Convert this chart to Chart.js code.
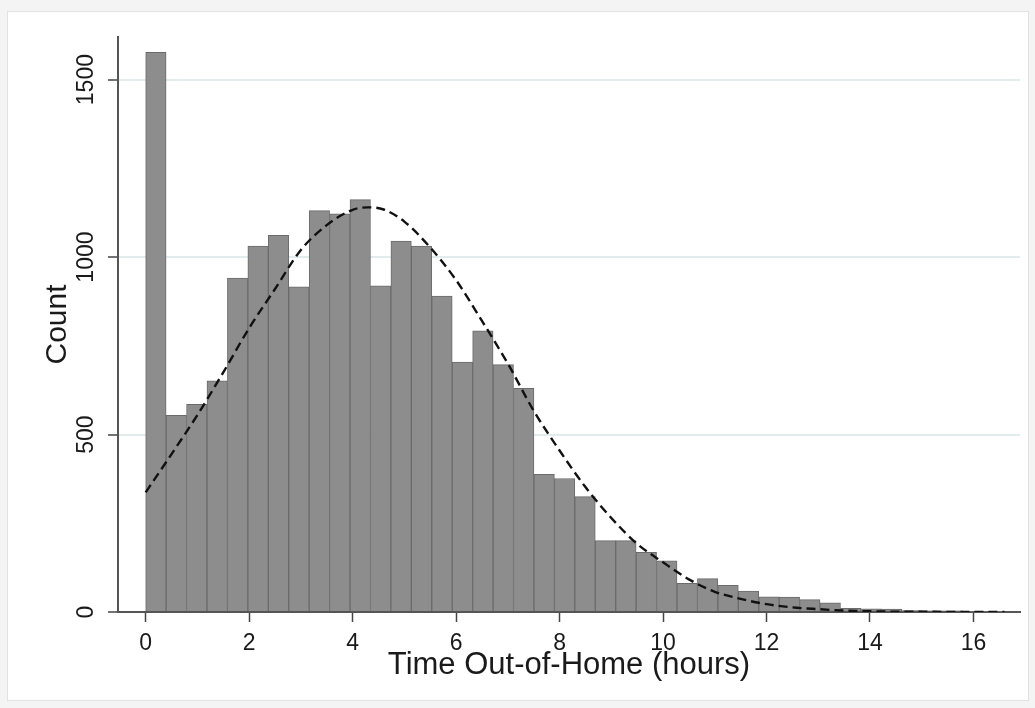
<!DOCTYPE html>
<html>
<head>
<meta charset="utf-8">
<script src="https://cdn.jsdelivr.net/npm/chart.js@4.4.0/dist/chart.umd.min.js"></script>
<style>
  html, body { margin: 0; padding: 0; background: #f4f4f4; }
  #frame { position: absolute; left: 7px; top: 11px; width: 1020px; height: 688px; background: #fff; border: 1px solid #e2e2e2; }
  #wrap { position: absolute; left: 0; top: 0; width: 1035px; height: 708px; }
</style>
</head>
<body>
<div id="frame"></div>
<div id="wrap"><canvas id="hist" width="1035" height="708"></canvas></div>
<script>
// histogram of time out-of-home, 42 bins from 0
const binWidth = 0.395;
const counts = [1577, 554, 585, 651, 941, 1031, 1061, 916, 1131, 1122, 1162, 919, 1045, 1031,
                890, 704, 792, 697, 630, 388, 376, 325, 201, 201, 168, 144, 81, 94,
                75, 59, 43, 42, 35, 26, 10, 9, 8, 4, 3, 3, 2, 2];

// fitted normal curve
const curveHours  = [0, 0.5, 1, 1.5, 2, 2.5, 3, 3.5, 4, 4.3, 4.6, 5, 5.5, 6, 6.5, 7, 7.5, 8, 8.5,
                     9, 9.5, 10, 10.5, 11, 11.5, 12, 12.5, 13, 13.5, 14, 14.5, 15, 15.5, 16, 16.6];
const curveCounts = [337, 445, 555, 675, 800, 910, 1020, 1090, 1133, 1140, 1134, 1100, 1027, 935, 820,
                     700, 567, 455, 352, 265, 192, 140, 92, 57, 37, 22, 13, 8, 4, 2, 1, 1, 0, 0, 0];

const xTicks = [0, 2, 4, 6, 8, 10, 12, 14, 16];
const yTicks = [0, 500, 1000, 1500];

const FONT = '"Liberation Sans", Arial, sans-serif';

const barPoints = counts.map((c, i) => ({ x: (i + 0.5) * binWidth, y: c }));
const curvePoints = curveHours.map((h, i) => ({ x: h, y: curveCounts[i] }));

new Chart(document.getElementById('hist'), {
  type: 'bar',
  data: {
    datasets: [
      {
        type: 'line',
        data: curvePoints,
        borderColor: '#111',
        borderWidth: 2.4,
        borderDash: [9, 5],
        pointRadius: 0,
        fill: false,
        cubicInterpolationMode: 'monotone',
        order: 0
      },
      {
        type: 'bar',
        data: barPoints,
        backgroundColor: '#8d8d8d',
        borderColor: '#6b6b6b',
        borderWidth: 1,
        barPercentage: 1,
        categoryPercentage: 1,
        order: 1
      }
    ]
  },
  options: {
    responsive: false,
    animation: false,
    layout: { padding: { left: 0, right: 15, top: 37, bottom: 0 } },
    plugins: { legend: { display: false }, tooltip: { enabled: false } },
    scales: {
      x: {
        type: 'linear',
        min: -0.535,
        max: 16.9,
        offset: false,
        afterBuildTicks: s => { s.ticks = xTicks.map(v => ({ value: v })); },
        afterFit: s => { s.height = 96; },
        grid: { drawOnChartArea: false, offset: false, tickLength: 10, tickColor: '#444', tickWidth: 1.5 },
        border: { color: '#555', width: 2 },
        ticks: { font: { family: FONT, size: 23 }, color: '#1a1a1a', padding: 8, maxRotation: 0, includeBounds: false,
                 callback: v => String(v) },
        title: { display: true, text: 'Time Out-of-Home (hours)', font: { family: FONT, size: 31 }, color: '#1a1a1a', padding: { top: 0, bottom: 24 } }
      },
      y: {
        min: 0,
        max: 1620,
        afterBuildTicks: s => { s.ticks = yTicks.map(v => ({ value: v })); },
        afterFit: s => { s.width = 118; },
        grid: { color: '#e2eced', lineWidth: 2, tickLength: 10, tickColor: '#444', tickWidth: 1.5 },
        border: { color: '#555', width: 2 },
        ticks: { font: { family: FONT, size: 23 }, color: '#1a1a1a', minRotation: 90, maxRotation: 90, crossAlign: 'center', padding: -4, includeBounds: false,
                 callback: v => String(v) },
        title: { display: true, text: 'Count', font: { family: FONT, size: 30 }, color: '#1a1a1a', padding: { top: 40, bottom: 0 } }
      }
    }
  }
});
</script>
</body>
</html>
